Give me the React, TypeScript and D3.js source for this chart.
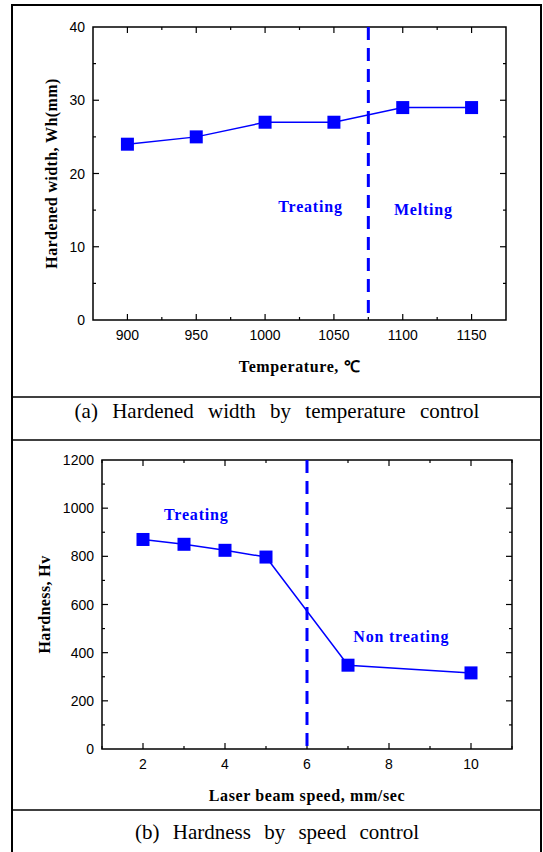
import React, { useEffect, useRef } from 'react';
import * as d3 from 'd3';

// (a) hardened width vs temperature
const temps = [900, 950, 1000, 1050, 1100, 1150];
const widths = [24, 25, 27, 27, 29, 29];
const tempTicks = [900, 950, 1000, 1050, 1100, 1150];
const widthTicks = [0, 10, 20, 30, 40];

// (b) hardness vs laser speed
const speeds = [2, 3, 4, 5, 7, 10];
const hardness = [870, 850, 825, 797, 348, 316];
const speedTicks = [2, 4, 6, 8, 10];
const hardTicks = [0, 200, 400, 600, 800, 1000, 1200];

const BLUE = '#0000ff';
const SANS = 'Liberation Sans, Arial, sans-serif';
const SERIF = 'Liberation Serif, Times New Roman, serif';

const App = () => {
  const svgRef = useRef(null);

  useEffect(() => {
    drawChart();
  }, []);

  const drawPanel = (svg, cfg) => {
    const { xs, ys, xDomain, yDomain, left, right, top, bottom, xTicks, xMinor, yTicks, yMinor, xTitle, yTitle, yTitleX, cut, labels } = cfg;
    const x = d3.scaleLinear().domain(xDomain).range([left, right]);
    const y = d3.scaleLinear().domain(yDomain).range([bottom, top]);
    const g = svg.append('g');

    // frame of the plot
    g.append('rect')
      .attr('x', left).attr('y', top)
      .attr('width', right - left).attr('height', bottom - top)
      .attr('fill', 'none').attr('stroke', '#000').attr('stroke-width', 1.5);

    // ticks pointing inward on all four sides
    const tick = (list, len, horiz) => {
      list.forEach(v => {
        if (horiz) {
          g.append('line').attr('x1', x(v)).attr('x2', x(v)).attr('y1', bottom).attr('y2', bottom - len).attr('stroke', '#000').attr('stroke-width', 1.2);
          g.append('line').attr('x1', x(v)).attr('x2', x(v)).attr('y1', top).attr('y2', top + len).attr('stroke', '#000').attr('stroke-width', 1.2);
        } else {
          g.append('line').attr('y1', y(v)).attr('y2', y(v)).attr('x1', left).attr('x2', left + len).attr('stroke', '#000').attr('stroke-width', 1.2);
          g.append('line').attr('y1', y(v)).attr('y2', y(v)).attr('x1', right).attr('x2', right - len).attr('stroke', '#000').attr('stroke-width', 1.2);
        }
      });
    };
    tick(xTicks, 6, true);
    tick(xMinor, 3, true);
    tick(yTicks.slice(1, -1), 6, false);
    tick(yMinor, 3, false);

    g.selectAll('.xl').data(xTicks).join('text')
      .attr('x', d => x(d)).attr('y', bottom + 20)
      .attr('text-anchor', 'middle')
      .attr('font-family', SANS).attr('font-size', 14)
      .text(d => d);

    g.selectAll('.yl').data(yTicks).join('text')
      .attr('x', left - 8).attr('y', d => y(d) + 5)
      .attr('text-anchor', 'end')
      .attr('font-family', SANS).attr('font-size', 14)
      .text(d => d);

    g.append('text')
      .attr('x', (left + right) / 2).attr('y', bottom + 52)
      .attr('text-anchor', 'middle')
      .attr('font-family', SERIF).attr('font-weight', 'bold').attr('font-size', 16)
      .attr('letter-spacing', 0.6)
      .text(xTitle);

    g.append('text')
      .attr('transform', `translate(${yTitleX}, ${(top + bottom) / 2}) rotate(-90)`)
      .attr('text-anchor', 'middle')
      .attr('font-family', SERIF).attr('font-weight', 'bold').attr('font-size', 16)
      .attr('letter-spacing', 0.4)
      .text(yTitle);

    // dashed boundary
    g.append('line')
      .attr('x1', x(cut)).attr('x2', x(cut))
      .attr('y1', top).attr('y2', bottom)
      .attr('stroke', BLUE).attr('stroke-width', 3)
      .attr('stroke-dasharray', '13,8');

    const pts = xs.map((v, i) => [v, ys[i]]);
    g.append('path')
      .attr('d', d3.line().x(d => x(d[0])).y(d => y(d[1]))(pts))
      .attr('fill', 'none').attr('stroke', BLUE).attr('stroke-width', 1.5);

    g.selectAll('.pt').data(pts).join('rect')
      .attr('x', d => x(d[0]) - 6.5).attr('y', d => y(d[1]) - 6.5)
      .attr('width', 13).attr('height', 13)
      .attr('fill', BLUE);

    labels.forEach(l => {
      g.append('text')
        .attr('x', x(l.x)).attr('y', y(l.y))
        .attr('text-anchor', 'middle')
        .attr('font-family', SERIF).attr('font-weight', 'bold').attr('font-size', 16)
        .attr('letter-spacing', 0.8)
        .attr('fill', BLUE)
        .text(l.text);
    });
  };

  const drawChart = () => {
    const svg = d3.select(svgRef.current);
    svg.selectAll('*').remove();

    // outer frame and caption separators
    svg.append('rect')
      .attr('x', 12).attr('y', 5).attr('width', 529).attr('height', 860)
      .attr('fill', 'none').attr('stroke', '#000').attr('stroke-width', 2);
    [397, 440, 810].forEach(yy => {
      svg.append('line').attr('x1', 12).attr('x2', 541).attr('y1', yy).attr('y2', yy)
        .attr('stroke', '#000').attr('stroke-width', 1.5);
    });

    drawPanel(svg, {
      xs: temps, ys: widths,
      xDomain: [875, 1175], yDomain: [0, 40],
      left: 93, right: 506, top: 27, bottom: 320,
      xTicks: tempTicks, xMinor: [925, 975, 1025, 1075, 1125],
      yTicks: widthTicks, yMinor: [5, 15, 25, 35],
      xTitle: 'Temperature, ℃', yTitle: 'Hardened width, Wh(mm)', yTitleX: 57,
      cut: 1075,
      labels: [
        { x: 1033, y: 14.8, text: 'Treating' },
        { x: 1115, y: 14.4, text: 'Melting' }
      ]
    });

    drawPanel(svg, {
      xs: speeds, ys: hardness,
      xDomain: [1, 11], yDomain: [0, 1200],
      left: 102, right: 512, top: 460, bottom: 749,
      xTicks: speedTicks, xMinor: [1, 3, 5, 7, 9, 11],
      yTicks: hardTicks, yMinor: [100, 300, 500, 700, 900, 1100],
      xTitle: 'Laser beam speed, mm/sec', yTitle: 'Hardness, Hv', yTitleX: 50,
      cut: 6,
      labels: [
        { x: 3.3, y: 950, text: 'Treating' },
        { x: 8.3, y: 445, text: 'Non treating' }
      ]
    });

    svg.append('text')
      .attr('x', 277).attr('y', 418)
      .attr('text-anchor', 'middle')
      .attr('font-family', SERIF).attr('font-size', 21).attr('word-spacing', 9)
      .text('(a) Hardened width by temperature control');

    svg.append('text')
      .attr('x', 277).attr('y', 839)
      .attr('text-anchor', 'middle')
      .attr('font-family', SERIF).attr('font-size', 21).attr('word-spacing', 8)
      .text('(b) Hardness by speed control');
  };

  return (
    <div style={{ position: 'absolute', left: 0, top: 0 }}>
      <svg ref={svgRef} width={543} height={852} style={{ display: 'block', background: '#fff' }}></svg>
    </div>
  );
};

export default App;
